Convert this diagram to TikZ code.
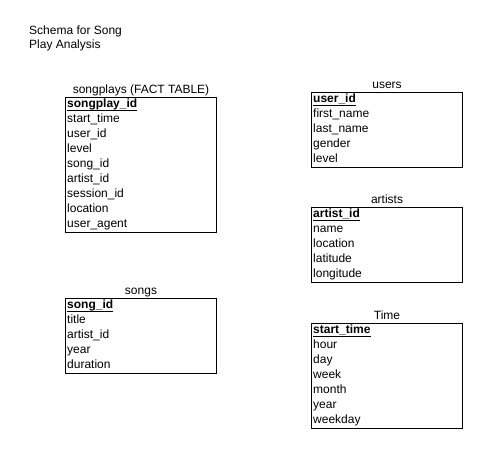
\documentclass[tikz,border=0pt]{standalone}
\usepackage{fontspec}
\setmainfont{Liberation Sans}
\usepackage{tikz}
\usetikzlibrary{positioning}

\begin{document}
\begin{tikzpicture}[x=1pt,y=-1pt,
    tablebox/.style={draw,line width=1pt,minimum width=151pt,inner sep=0pt,anchor=north west},
    field/.style={anchor=west,inner sep=0pt,font=\fontsize{12}{14}\selectfont,text height=8.5pt,text depth=2.5pt},
    keyfield/.style={field,font=\fontsize{12}{14}\selectfont\bfseries},
    caption/.style={field,anchor=south,above=1pt of #1}]
  \useasboundingbox (0,0) rectangle (487,454);

  \node[anchor=north west,inner sep=0pt,align=left,font=\fontsize{12}{14}\selectfont] (title) at (29,26) {Schema for Song\\Play Analysis};

  % fact table
  \node[tablebox,minimum height=135pt] (songplays) at (65,97) {};
  \node[caption=songplays] (songplayscap) {songplays (FACT TABLE)};
  \node[keyfield] (songplayskey) at (67,104.5) {songplay\_id};
  \draw (songplayskey.south west) -- (songplayskey.south east);
  \foreach \f [count=\i] in {start\_time,user\_id,level,song\_id,artist\_id,session\_id,location,user\_agent}
    \node[field] (songplays\i) at (67,{104.5+15*\i}) {\f};

  % users
  \node[tablebox,minimum height=75pt] (users) at (311,92) {};
  \node[caption=users] (userscap) {users};
  \node[keyfield] (userskey) at (313,99.5) {user\_id};
  \draw (userskey.south west) -- (userskey.south east);
  \foreach \f [count=\i] in {first\_name,last\_name,gender,level}
    \node[field] (users\i) at (313,{99.5+15*\i}) {\f};

  % artists
  \node[tablebox,minimum height=75pt] (artists) at (311,207) {};
  \node[caption=artists] (artistscap) {artists};
  \node[keyfield] (artistskey) at (313,214.5) {artist\_id};
  \draw (artistskey.south west) -- (artistskey.south east);
  \foreach \f [count=\i] in {name,location,latitude,longitude}
    \node[field] (artists\i) at (313,{214.5+15*\i}) {\f};

  % songs
  \node[tablebox,minimum height=75pt] (songs) at (65,298) {};
  \node[caption=songs] (songscap) {songs};
  \node[keyfield] (songskey) at (67,305.5) {song\_id};
  \draw (songskey.south west) -- (songskey.south east);
  \foreach \f [count=\i] in {title,artist\_id,year,duration}
    \node[field] (songs\i) at (67,{305.5+15*\i}) {\f};

  % time
  \node[tablebox,minimum height=105pt] (time) at (311,323) {};
  \node[caption=time] (timecap) {Time};
  \node[keyfield] (timekey) at (313,330.5) {start\_time};
  \draw (timekey.south west) -- (timekey.south east);
  \foreach \f [count=\i] in {hour,day,week,month,year,weekday}
    \node[field] (time\i) at (313,{330.5+15*\i}) {\f};
\end{tikzpicture}
\end{document}
